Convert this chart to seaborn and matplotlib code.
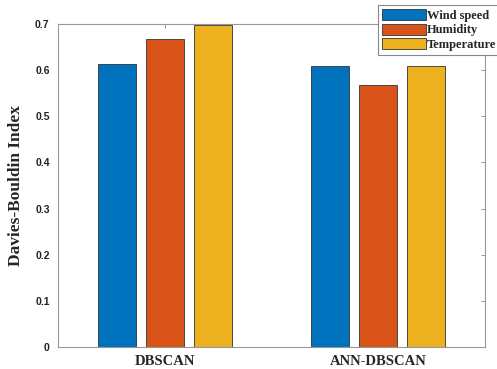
import pandas as pd
import matplotlib.pyplot as plt
import seaborn as sns

# values
methods = ['DBSCAN', 'ANN-DBSCAN']
features = ['Wind speed', 'Humidity', 'Temperature']
wind_speed = [0.613, 0.609]
humidity = [0.668, 0.568]
temperature = [0.698, 0.609]
y_ticks = [0, 0.1, 0.2, 0.3, 0.4, 0.5, 0.6, 0.7]
y_tick_labels = ['0', '0.1', '0.2', '0.3', '0.4', '0.5', '0.6', '0.7']

df = pd.DataFrame({
    'method': methods * 3,
    'feature': [f for f in features for _ in methods],
    'dbi': wind_speed + humidity + temperature,
})

sns.set_style('white')
plt.rcParams['font.family'] = ['Liberation Serif', 'DejaVu Serif']

fig = plt.figure(figsize=(4.97, 3.69), dpi=100)
ax = fig.add_axes([0.1167, 0.0596, 0.8593, 0.8754])

sns.barplot(data=df, x='method', y='dbi', hue='feature', order=methods, hue_order=features,
            palette=['#0072BD', '#D95319', '#EDB120'], saturation=1, width=0.675, gap=0.21,
            edgecolor='#333333', linewidth=0.6, ax=ax)

ax.set_xlim(-0.5, 1.5)
ax.set_ylim(0, 0.7)
ax.set_yticks(y_ticks)
ax.set_yticklabels(y_tick_labels, family='Liberation Sans', fontweight='bold', fontsize=7.5, color='#222222')
ax.set_xticks([0, 1])
ax.set_xticklabels(methods, fontweight='bold', fontsize=10.5)
ax.set_xlabel('')
ax.set_ylabel('Davies-Bouldin Index', fontweight='bold', fontsize=12.5, labelpad=8)
ax.tick_params(axis='both', direction='in', length=3, width=0.6, color='#888888',
               top=True, right=True, pad=6)
for s in ax.spines.values():
    s.set_color('#999999')
    s.set_linewidth(0.8)

leg = ax.legend(loc='upper left', bbox_to_anchor=(378 / 497, 1 - 5 / 369),
                bbox_transform=fig.transFigure, prop={'weight': 'bold', 'size': 9},
                handlelength=3.5, handleheight=1.0, handletextpad=0.1,
                labelspacing=0.15, borderpad=0.3, borderaxespad=0,
                fancybox=False, framealpha=1, edgecolor='#888888')
leg.get_frame().set_linewidth(0.8)

plt.savefig('out.png', dpi=100)
plt.close()
